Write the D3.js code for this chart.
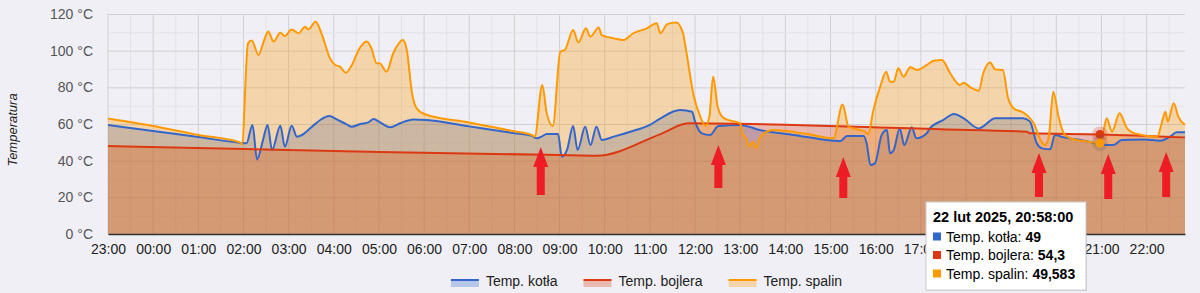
<!DOCTYPE html>
<html>
<head>
<meta charset="utf-8">
<script src="https://cdn.jsdelivr.net/npm/d3@7"></script>
<style>
  body { margin: 0; background: #f0eff5; font-family: "Liberation Sans", Arial, sans-serif; }
  svg { display: block; }
</style>
</head>
<body>
<div id="chart"></div>
<script>
// temperatura kotła, bojlera i spalin, 21/22 lut 2025
const kotla = [
  ["23:00",59.5],["00:00",56.2],["01:00",52.9],["01:55",49.8],["02:04",49.5],["02:12",59.5],["02:18",40.7],["02:26",51.3],["02:32",59.5],
  ["02:38",45.8],["02:49",59.1],["02:55",47.6],["03:04",59.1],["03:11",53.1],["03:15",53.5],["03:31",58.5],
  ["03:42",62.2],["03:54",64.4],["04:04",62.5],["04:17",59.8],["04:24",58.5],["04:35",60],["04:46",60.9],
  ["04:53",62.7],["05:01",61],["05:15",58.2],["05:28",60.4],["05:46",62.5],["06:03",62.2],["07:00",58.7],["08:00",55],["08:23",53.5],
  ["08:30",52.2],["08:36",53.1],["08:43",54.5],["08:58",54.5],["09:03",42.2],["09:10",46],["09:18",58.9],
  ["09:24",45.8],["09:34",58.5],["09:41",48.5],["09:49",58.5],["09:56",51.3],["10:12",53.1],["10:34",55.8],
  ["11:00",59.5],["11:14",63.1],["11:40",67.6],["11:56",66.7],["12:00",61.3],["12:09",54.9],["12:20",54],
  ["12:31",58.9],["13:00",59.5],["13:26",56.7],["14:11",54],["15:04",50.9],["15:13",50.7],["15:22",53.5],
  ["15:44",53.5],["15:48",49.5],["15:53",37.6],["15:59",38.5],["16:08",54],["16:15",56.7],["16:19",44],
  ["16:24",45.8],["16:32",57.6],["16:38",48.5],["16:48",58.2],["16:54",52.2],["17:08",54.9],["17:12",57.6],
  ["17:30",62.2],["17:44",65.5],["17:57",63.1],["18:17",57.6],["18:39",63.1],["19:16",63.1],["19:25",61.3],
  ["19:34",49.5],["19:41",46.7],["19:52",46.2],["19:58",54],["20:10",52.7],["20:32",51.3],["20:58",49],
  ["21:16",48.5],["21:27",51.3],["21:56",51.6],["22:18",50.9],["22:31",53.1],["22:40",55.5],["22:51",55.5]
];
const bojlera = [
  ["23:00",48],["05:01",44.7],["09:01",43.1],["09:49",42.7],["11:14",54.5],["11:51",60.4],["17:26",57.1],
  ["19:21",55.8],["19:25",54.9],["20:58",54.3],["22:51",52.7]
];
const spalin = [
  ["23:00",63],["00:00",58.9],["01:00",54],["01:55",50],["01:58",49],["02:06",104],["02:11",105.5],["02:20",97.6],["02:26",104],
  ["02:33",110.4],["02:40",105],["02:49",109.8],["02:55",108],["03:04",111.6],["03:13",109.5],["03:22",113],
  ["03:26",111.6],["03:36",115.8],["03:44",109],["03:55",95.8],["04:02",92.2],["04:08",91.3],["04:16",88],
  ["04:24",92.2],["04:33",100.4],["04:44",105],["04:50",101.3],["04:57",93.1],["05:01",93.1],["05:10",88.5],
  ["05:19",98.6],["05:32",105.8],["05:37",100.4],["05:44",76.7],["05:50",68.6],["06:01",65.3],["07:00",60.8],["08:00",56],["08:23",54],
  ["08:27",53.1],["08:37",81.3],["08:43",65.8],["08:51",58.9],["09:01",99.5],["09:07",100.4],["09:18",111.3],
  ["09:25",104.4],["09:35",112.2],["09:41",107.6],["09:52",112.7],["09:56",108.5],["10:12",106.7],["10:25",105.8],
  ["10:38",109.5],["10:56",112.2],["11:09",115],["11:14",109.5],["11:23",114.5],["11:35",115.3],["11:44",109.5],
  ["11:48",100.4],["11:58",75.8],["12:07",64],["12:14",59.1],["12:19",64],["12:24",85.8],["12:30",69.5],
  ["12:36",64],["12:42",62.5],["13:00",60.4],["13:03",54.9],["13:08",52.2],["13:12",47.6],["13:17",50.4],
  ["13:21",46.7],["13:26",52.2],["13:35",55.8],["13:44",56.7],["14:30",54.5],["15:04",52.2],["15:16",70.7],["15:24",58.5],
  ["15:46",55.8],["15:50",54.5],["15:57",67.6],["16:06",80.4],["16:14",88.5],["16:19",83.1],["16:24",83.1],
  ["16:30",90.4],["16:37",85.8],["16:46",90.9],["16:55",89.5],["17:08",92.2],["17:17",94.5],["17:28",94.9],
  ["17:39",87.7],["17:52",81.3],["17:57",82.5],["18:06",80],["18:17",78.2],["18:23",87.7],["18:32",93.5],
  ["18:39",89.8],["18:49",89.5],["18:56",74],["19:05",68],["19:14",66.7],["19:23",64],["19:30",60.4],
  ["19:39",51.3],["19:45",48.5],["19:50",53],["19:56",77.6],["20:03",64],["20:10",54.9],["20:18",52.2],
  ["20:41",50.4],["20:58",49.583],["21:03",56.7],["21:07",63.1],["21:14",55.8],["21:24",65.8],["21:34",57.6],
  ["21:47",54.5],["22:14",53.1],["22:20",60.4],["22:25",66.7],["22:28",61.3],["22:36",71.3],["22:42",64],
  ["22:51",59.5]
];
const seriesNames = ["Temp. kotła", "Temp. bojlera", "Temp. spalin"];
const seriesColors = ["#3366cc", "#dc3912", "#ff9900"];
const yTicks = [0, 20, 40, 60, 80, 100, 120];
// red annotation arrows: time, tip value, tail value
const arrows = [
  ["08:35",47.5,21.3],["12:31",48.5,25.1],["15:17",42,19.6],["19:37",44.2,20.2],["21:09",43.6,19.1],["22:26",44.7,20.2]
];
const hoverTime = "20:58";
const hoverTitle = "22 lut 2025, 20:58:00";
const hoverValues = ["49", "54,3", "49,583"];

function toDate(s) {
  const [h, m] = s.split(":").map(Number);
  return new Date(2025, 1, h >= 23 ? 21 : 22, h, m);
}

const W = 1200, H = 293;
const m = {left: 108, right: 15, top: 14, bottom: 59};
const iw = W - m.left - m.right, ih = H - m.top - m.bottom;

const svg = d3.select("#chart").append("svg").attr("width", W).attr("height", H);
const g = svg.append("g").attr("transform", `translate(${m.left},${m.top})`);

const x = d3.scaleTime().domain([toDate("23:00"), toDate("22:51")]).range([0, iw]);
const y = d3.scaleLinear().domain([0, 120]).range([ih, 0]);

// grid
const minorX = d3.timeMinute.every(30).range(x.domain()[0], x.domain()[1]);
g.append("g").selectAll("line").data(minorX).join("line")
  .attr("x1", d => x(d)).attr("x2", d => x(d)).attr("y1", 0).attr("y2", ih)
  .attr("stroke", d => d.getMinutes() === 0 ? "#cfcfd4" : "#e2e2e8").attr("stroke-width", 1);
g.append("g").selectAll("line").data(d3.range(0, 121, 10)).join("line")
  .attr("x1", 0).attr("x2", iw).attr("y1", d => y(d) + 0.5).attr("y2", d => y(d) + 0.5)
  .attr("stroke", d => d % 20 === 0 ? "#cfcfd4" : "#e2e2e8").attr("stroke-width", 1);

const all = [kotla, bojlera, spalin].map(s => s.map(d => ({t: toDate(d[0]), v: d[1]})));

const area = d3.area().x(d => x(d.t)).y0(ih).y1(d => y(d.v)).curve(d3.curveMonotoneX);
const line = d3.line().x(d => x(d.t)).y(d => y(d.v)).curve(d3.curveMonotoneX);

g.append("g").selectAll("path").data(all).join("path")
  .attr("d", area).attr("fill", (d, i) => seriesColors[i]).attr("fill-opacity", 0.3);
g.append("g").selectAll("path").data(all).join("path")
  .attr("d", line).attr("fill", "none").attr("stroke", (d, i) => seriesColors[i])
  .attr("stroke-width", 2).attr("stroke-linejoin", "round");

// axes
const xAxis = g.append("g").attr("transform", `translate(0,${ih})`)
  .call(d3.axisBottom(x).ticks(d3.timeHour.every(1)).tickFormat(d3.timeFormat("%H:%M")).tickSize(0).tickPadding(10));
xAxis.select(".domain").attr("stroke", "#333").attr("stroke-width", 1.5);
xAxis.selectAll("text").attr("font-size", 14).attr("fill", "#222").attr("font-family", "Liberation Sans, Arial");

const yAxis = g.append("g")
  .call(d3.axisLeft(y).tickValues(yTicks).tickFormat(d => d + " °C").tickSize(0).tickPadding(15));
yAxis.select(".domain").remove();
yAxis.selectAll("text").attr("font-size", 14).attr("fill", "#555").attr("font-family", "Liberation Sans, Arial");

svg.append("text").attr("transform", `translate(17,${m.top + ih / 2 + 6}) rotate(-90)`)
  .attr("text-anchor", "middle").attr("font-size", 13).attr("font-style", "italic").attr("fill", "#222")
  .text("Temperatura");

// arrows
const ag = g.append("g").attr("fill", "#ee1c25");
arrows.forEach(a => {
  const ax = x(toDate(a[0])), tip = y(a[1]), tail = y(a[2]);
  const hw = 7.5, hh = 20, sw = 4;
  ag.append("path").attr("d",
    `M${ax},${tip} L${ax + hw},${tip + hh} L${ax + sw},${tip + hh} L${ax + sw},${tail} ` +
    `L${ax - sw},${tail} L${ax - sw},${tip + hh} L${ax - hw},${tip + hh} Z`);
});

// hover markers
const ht = x(toDate(hoverTime));
const hv = [1, 2].map(i => all[i].find(d => +d.t === +toDate(hoverTime)));
g.append("circle").attr("cx", ht).attr("cy", y(hv[0].v)).attr("r", 8).attr("fill", seriesColors[1]).attr("opacity", 0.25);
g.append("circle").attr("cx", ht).attr("cy", y(hv[0].v)).attr("r", 4.5).attr("fill", seriesColors[1]);
g.append("circle").attr("cx", ht).attr("cy", y(hv[1].v)).attr("r", 8).attr("fill", "#555").attr("opacity", 0.2);
g.append("circle").attr("cx", ht).attr("cy", y(hv[1].v)).attr("r", 4.5).attr("fill", seriesColors[2]);

// legend
const lg = svg.append("g").attr("font-size", 14).attr("fill", "#222");
const items = seriesNames.map((n, i) => {
  const t = lg.append("text").text(n);
  return {n, i, t, w: t.node().getComputedTextLength()};
});
const sw = 28, gap = 7, itemGap = 26;
const total = d3.sum(items, d => sw + gap + d.w) + itemGap * (items.length - 1);
let lx = m.left + iw / 2 - total / 2;
items.forEach(d => {
  lg.append("rect").attr("x", lx).attr("y", 280).attr("width", sw).attr("height", 7)
    .attr("fill", seriesColors[d.i]).attr("fill-opacity", 0.3);
  lg.append("rect").attr("x", lx).attr("y", 279).attr("width", sw).attr("height", 2)
    .attr("fill", seriesColors[d.i]);
  d.t.attr("x", lx + sw + gap).attr("y", 286);
  lx += sw + gap + d.w + itemGap;
});

// tooltip
const tip = svg.append("g").attr("transform", "translate(926,202)");
tip.append("rect").attr("x", 1).attr("y", 1).attr("width", 160).attr("height", 88).attr("fill", "#000").attr("opacity", 0.12);
tip.append("rect").attr("width", 160).attr("height", 88).attr("fill", "#fff").attr("stroke", "#ccc");
tip.append("text").attr("x", 7).attr("y", 20).attr("font-size", 14.5).attr("font-weight", "bold").attr("fill", "#000")
  .text(hoverTitle);
seriesNames.forEach((n, i) => {
  const ty = 39.5 + i * 18.5;
  tip.append("rect").attr("x", 7).attr("y", ty - 9).attr("width", 8).attr("height", 8).attr("fill", seriesColors[i]);
  const t = tip.append("text").attr("x", 20).attr("y", ty).attr("font-size", 14).attr("fill", "#000");
  t.append("tspan").text(n + ": ");
  t.append("tspan").attr("font-weight", "bold").text(hoverValues[i]);
});
</script>
</body>
</html>
